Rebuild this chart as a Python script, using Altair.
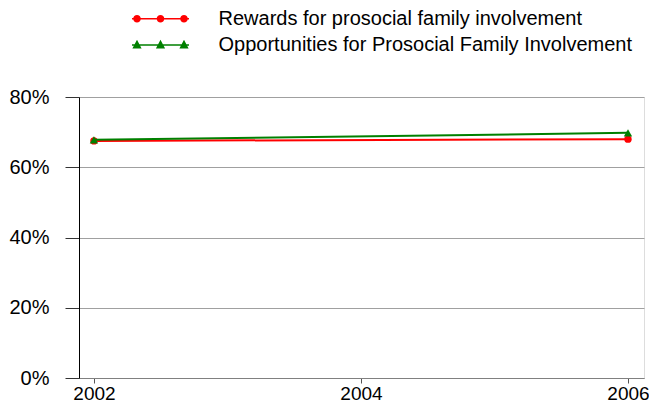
import altair as alt
import pandas as pd

years = [2002, 2006]
series_names = ["Rewards for prosocial family involvement",
                "Opportunities for Prosocial Family Involvement"]
rewards = [0.675, 0.680]
opportunities = [0.678, 0.698]
colors = ["#ff0000", "#008000"]
shapes = ["circle", "triangle-up"]
y_ticks = [0, 0.2, 0.4, 0.6, 0.8]
x_ticks = [2002, 2004, 2006]

FONT = "Liberation Sans"

def circle(cx, r):
    return (f"M{cx - r},0 A{r},{r} 0 1,1 {cx + r},0 "
            f"A{r},{r} 0 1,1 {cx - r},0 Z ")

def tri(cx, hw, top, bot):
    return f"M{cx},{top} L{cx + hw},{bot} L{cx - hw},{bot} Z "

line_rect = "M-2.85,-0.07 L2.85,-0.07 L2.85,0.07 L-2.85,0.07 Z "
sym_red = line_rect + circle(-2.35, 0.38) + circle(0, 0.38) + circle(2.35, 0.38)
sym_green = line_rect + tri(-2.35, 0.46, -0.53, 0.34) + tri(0, 0.46, -0.53, 0.34) + tri(2.35, 0.46, -0.53, 0.34)
symbols = [sym_red, sym_green]
legend_y = [-88.3, -62.0]

x_scale = alt.Scale(domain=[2001.888, 2006.12], nice=False, zero=False)
y_scale = alt.Scale(domain=[0, 0.8], nice=False)

x_axis = alt.Axis(values=x_ticks, format="d", title=None, grid=False,
                  domainColor="#808080", tickColor="#555555", tickSize=5,
                  labelFont=FONT, labelFontSize=19, labelColor="#000000",
                  labelPadding=1, labelFlush=False)
y_axis = alt.Axis(values=y_ticks, format=".0%", title=None, grid=True,
                  gridColor="#a0a0a0", domainColor="#000000",
                  tickColor="#333333", tickSize=14,
                  labelFont=FONT, labelFontSize=20, labelColor="#000000",
                  labelPadding=16)

layers = []
for i, (name, vals) in enumerate(zip(series_names, [rewards, opportunities])):
    df = pd.DataFrame({"year": years, "value": vals, "series": [name] * len(years)})
    base = alt.Chart(df)
    enc_x = alt.X("year:Q", scale=x_scale, axis=x_axis)
    enc_y = alt.Y("value:Q", scale=y_scale, axis=y_axis)
    line = base.mark_line(color=colors[i], strokeWidth=2).encode(x=enc_x, y=enc_y)
    pts = base.mark_point(filled=True, shape=shapes[i], size=55 if i == 0 else 70,
                          opacity=1).encode(
        x=enc_x, y=enc_y,
        color=alt.Color("series:N",
                        scale=alt.Scale(domain=[name], range=[colors[i]]),
                        legend=alt.Legend(
                            title=None, orient="none", legendX=71.5,
                            legendY=legend_y[i], padding=0, offset=0,
                            symbolType=symbols[i], symbolSize=400,
                            symbolFillColor=colors[i], symbolStrokeColor=colors[i],
                            symbolStrokeWidth=0, symbolOpacity=1,
                            labelFont=FONT, labelFontSize=20,
                            labelColor="#000000", labelOffset=48,
                            labelLimit=600)))
    layers += [line, pts]

chart = alt.layer(*layers).resolve_scale(color="independent").resolve_legend(
    color="independent"
).properties(
    width=565, height=281,
    autosize=alt.AutoSizeParams(type="none"),
    padding={"left": 71, "top": 89, "right": 5, "bottom": 25},
).configure_view(strokeWidth=0).configure(background="white")

chart.save("out.html", embed_options={"renderer": "svg", "actions": False})
